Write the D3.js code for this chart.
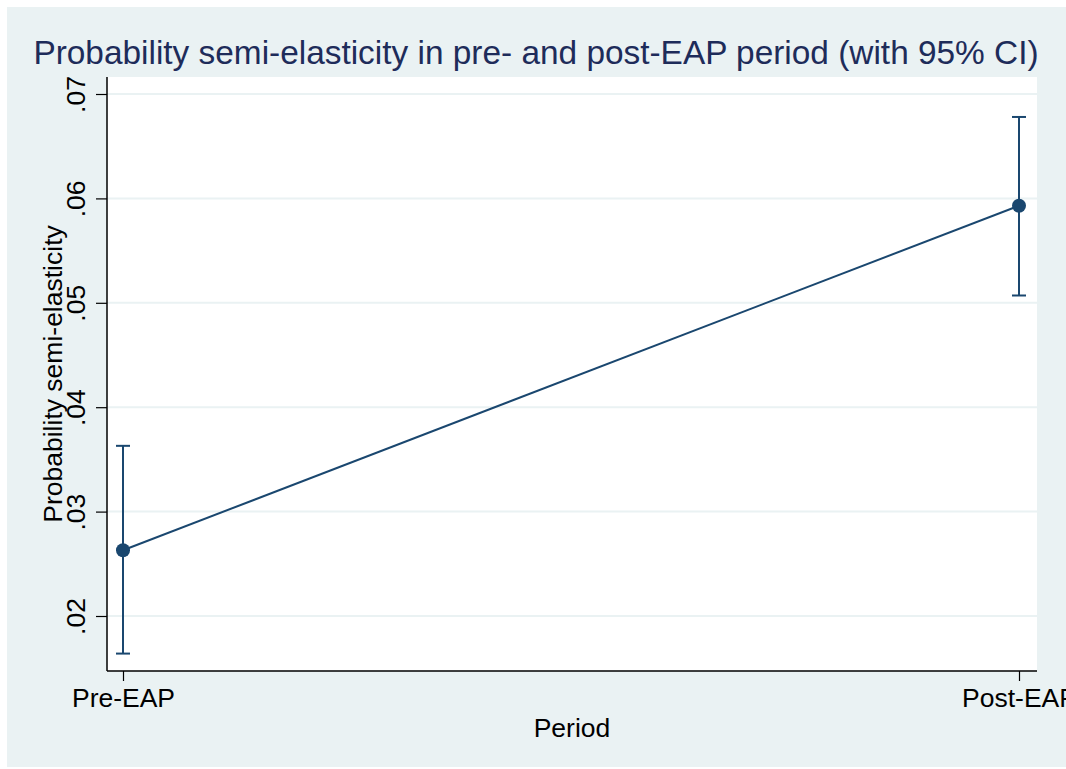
<!DOCTYPE html>
<html>
<head>
<meta charset="utf-8">
<script src="https://cdn.jsdelivr.net/npm/d3@7"></script>
<style>
  html, body { margin: 0; padding: 0; background: #ffffff; overflow: hidden; }
  svg { display: block; font-family: "Liberation Sans", Arial, Helvetica, sans-serif; }
</style>
</head>
<body>
<svg id="chart" width="1066" height="769"></svg>
<script>
// Estimated semi-elasticities with 95% confidence bounds
const periods = ["Pre-EAP", "Post-EAP"];
const estimates = [0.0263, 0.0593];
const ciLower = [0.0164, 0.0507];
const ciUpper = [0.0363, 0.0678];
const yTicks = [0.02, 0.03, 0.04, 0.05, 0.06, 0.07];
const yTickLabels = [".02", ".03", ".04", ".05", ".06", ".07"];

const titleText = "Probability semi-elasticity in pre- and post-EAP period (with 95% CI)";
const yTitle = "Probability semi-elasticity";
const xTitle = "Period";

const W = 1066, H = 769;
const plot = { left: 107, right: 1037, top: 77, bottom: 671 };
const navy = "#1a476f";
const bg = "#eaf2f3";
const fs = 26.5;

const svg = d3.select("#chart");

// graph region
svg.append("rect").attr("x", 7).attr("y", 7).attr("width", W - 7).attr("height", H - 9).attr("fill", bg);
// plot region
svg.append("rect").attr("x", plot.left).attr("y", plot.top)
  .attr("width", plot.right - plot.left).attr("height", plot.bottom - plot.top).attr("fill", "#ffffff");

const x = d3.scalePoint().domain(periods).range([123, 1019]);
const y = d3.scaleLinear().domain([0.02, 0.07]).range([616, 94]);

// grid lines
svg.append("g").selectAll("line").data(yTicks).join("line")
  .attr("x1", plot.left).attr("x2", plot.right)
  .attr("y1", d => y(d)).attr("y2", d => y(d))
  .attr("stroke", bg).attr("stroke-width", 2);

// y axis
const yAxis = d3.axisLeft(y).tickValues(yTicks)
  .tickFormat((d, i) => yTickLabels[i]).tickSize(11).tickPadding(10);
const gy = svg.append("g").attr("transform", `translate(${plot.left},0)`).call(yAxis);
gy.select(".domain").remove();
gy.selectAll(".tick line").attr("stroke", "#000").attr("stroke-width", 1.2);
gy.selectAll(".tick text")
  .attr("font-size", fs).attr("fill", "#000")
  .attr("text-anchor", "middle").attr("x", null)
  .attr("transform", "translate(-31.5,0) rotate(-90)")
  .attr("y", 0)
  .attr("dy", "0.35em");
svg.append("line").attr("x1", plot.left).attr("x2", plot.left)
  .attr("y1", plot.top).attr("y2", plot.bottom)
  .attr("stroke", "#000").attr("stroke-width", 1.5);

// x axis
const xAxis = d3.axisBottom(x).tickSize(10).tickPadding(7);
const gx = svg.append("g").attr("transform", `translate(0,${plot.bottom})`).call(xAxis);
gx.select(".domain").remove();
gx.selectAll(".tick line").attr("stroke", "#000").attr("stroke-width", 1.2);
gx.selectAll(".tick text").attr("font-size", fs).attr("fill", "#000");
svg.append("line").attr("x1", plot.left).attr("x2", plot.right)
  .attr("y1", plot.bottom).attr("y2", plot.bottom)
  .attr("stroke", "#000").attr("stroke-width", 1.5);

// axis titles
svg.append("text").attr("x", (plot.left + plot.right) / 2).attr("y", 737)
  .attr("text-anchor", "middle").attr("font-size", fs).attr("fill", "#000").text(xTitle);
svg.append("text").attr("transform", `translate(62,${(plot.top + plot.bottom) / 2}) rotate(-90)`)
  .attr("text-anchor", "middle").attr("font-size", fs).attr("fill", "#000").text(yTitle);

// title
svg.append("text").attr("x", 536).attr("y", 64)
  .attr("text-anchor", "middle").attr("font-size", 33.4).attr("fill", "#1e2c5a").text(titleText);

// connecting line
const pts = periods.map((p, i) => ({ p, est: estimates[i], lo: ciLower[i], hi: ciUpper[i] }));
svg.append("path").datum(pts)
  .attr("d", d3.line().x(d => x(d.p)).y(d => y(d.est)))
  .attr("fill", "none").attr("stroke", navy).attr("stroke-width", 2);

// confidence intervals
const ci = svg.append("g").attr("stroke", navy).attr("stroke-width", 2);
ci.selectAll("line.v").data(pts).join("line").attr("class", "v")
  .attr("x1", d => x(d.p)).attr("x2", d => x(d.p))
  .attr("y1", d => y(d.lo)).attr("y2", d => y(d.hi));
ci.selectAll("line.cap-hi").data(pts).join("line").attr("class", "cap-hi")
  .attr("x1", d => x(d.p) - 7).attr("x2", d => x(d.p) + 7)
  .attr("y1", d => y(d.hi)).attr("y2", d => y(d.hi));
ci.selectAll("line.cap-lo").data(pts).join("line").attr("class", "cap-lo")
  .attr("x1", d => x(d.p) - 7).attr("x2", d => x(d.p) + 7)
  .attr("y1", d => y(d.lo)).attr("y2", d => y(d.lo));

// point estimates
svg.append("g").selectAll("circle").data(pts).join("circle")
  .attr("cx", d => x(d.p)).attr("cy", d => y(d.est)).attr("r", 7)
  .attr("fill", navy);
</script>
</body>
</html>
